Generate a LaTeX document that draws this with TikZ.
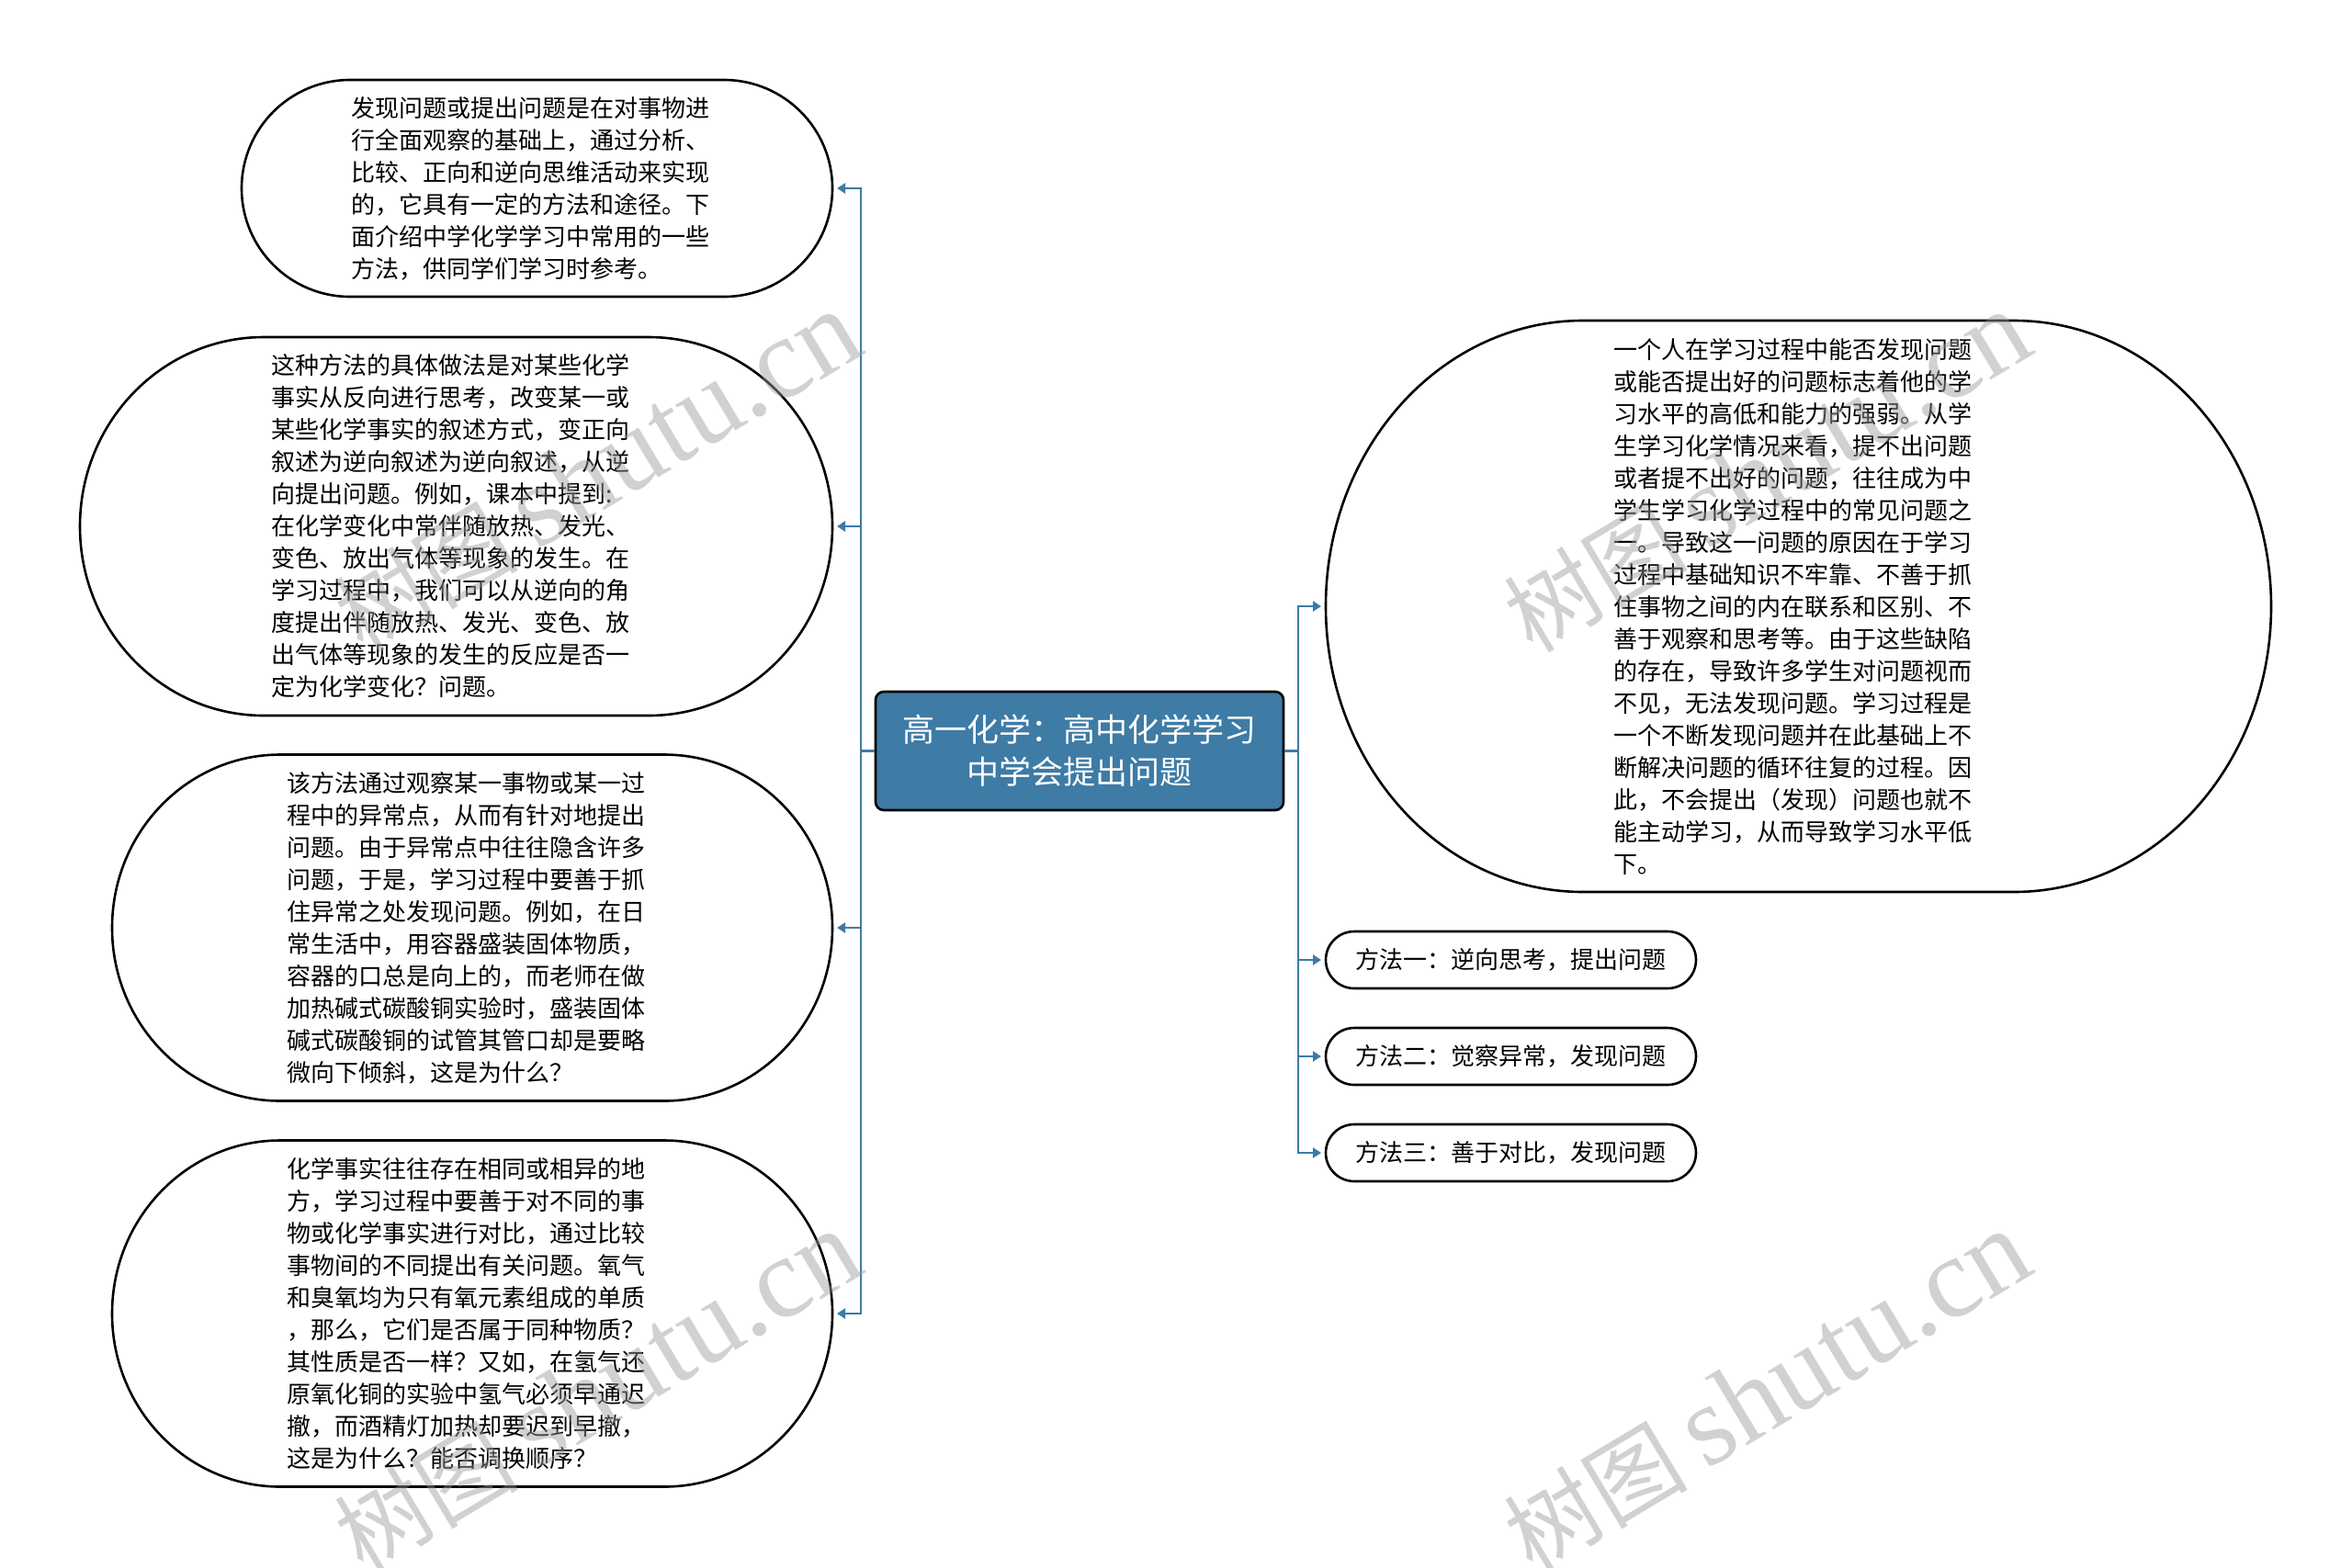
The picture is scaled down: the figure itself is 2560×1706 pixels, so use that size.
\documentclass[tikz,border=0pt]{standalone}
\usepackage{fontspec}
\setmainfont{Noto Sans CJK SC}
\newfontfamily\wmlatin{Liberation Serif}
\usetikzlibrary{arrows.meta,calc}
\definecolor{linkblue}{HTML}{3D7BA4}
\definecolor{rootblue}{HTML}{3E7BA5}
\newcommand{\drawcapsule}[3]{%
  \draw[outline] ($(#1.north west)+(#2,0)$) -- ($(#1.north east)+(-#2,0)$)
    arc[start angle=90,end angle=-90,x radius=#2pt,y radius=#3pt]
    -- ($(#1.south west)+(#2,0)$)
    arc[start angle=270,end angle=90,x radius=#2pt,y radius=#3pt] -- cycle;}
\begin{document}
\begin{tikzpicture}[x=1pt,y=-1pt,
  txt/.style={align=left, font=\fontsize{26}{35}\selectfont, inner sep=0pt},
  frame/.style={inner sep=0pt, outer sep=0pt, draw=none},
  outline/.style={draw=black, line width=2.6pt, fill=white},
  link/.style={draw=linkblue, line width=2.6pt},
  arr/.style={link, -{Triangle[length=9pt,width=11pt]}, shorten >=5pt},
  root/.style={draw=black, line width=2.6pt, fill=rootblue, rounded corners=9pt,
    text=white, align=center, font=\fontsize{35}{46}\selectfont,
    minimum width=444pt, minimum height=129pt, inner sep=0pt},
  wm/.style={text=black!40, opacity=0.45, inner sep=0pt}]
\useasboundingbox (0,0) rectangle (2560,1706);
\fill[white] (0,0) rectangle (2560,1706);

% frames
\node[frame, minimum width=643pt, minimum height=236pt] (L1f) at (584.5,205) {};
\node[frame, minimum width=819pt, minimum height=412pt] (L2f) at (496.5,573) {};
\node[frame, minimum width=784pt, minimum height=377pt] (L3f) at (514,1010) {};
\node[frame, minimum width=784pt, minimum height=377pt] (L4f) at (514,1430) {};
\node[frame, minimum width=1029pt, minimum height=622pt] (R1f) at (1957.5,660) {};
\node[frame, minimum width=403pt, minimum height=62pt] (R2f) at (1644.5,1045) {};
\node[frame, minimum width=403pt, minimum height=62pt] (R3f) at (1644.5,1150) {};
\node[frame, minimum width=403pt, minimum height=62pt] (R4f) at (1644.5,1255) {};

\drawcapsule{L1f}{118}{118}
\drawcapsule{L2f}{200}{206}
\drawcapsule{L3f}{183}{188.5}
\drawcapsule{L4f}{183}{188.5}
\drawcapsule{R1f}{280}{311}
\drawcapsule{R2f}{31}{31}
\drawcapsule{R3f}{31}{31}
\drawcapsule{R4f}{31}{31}

% texts
\node[txt] (L1) at (577,205) {发现问题或提出问题是在对事物进\\行全面观察的基础上，通过分析、\\比较、正向和逆向思维活动来实现\\的，它具有一定的方法和途径。下\\面介绍中学化学学习中常用的一些\\方法，供同学们学习时参考。};
\node[txt] (L2) at (490,573) {这种方法的具体做法是对某些化学\\事实从反向进行思考，改变某一或\\某些化学事实的叙述方式，变正向\\叙述为逆向叙述为逆向叙述，从逆\\向提出问题。例如，课本中提到:\\在化学变化中常伴随放热、发光、\\变色、放出气体等现象的发生。在\\学习过程中，我们可以从逆向的角\\度提出伴随放热、发光、变色、放\\出气体等现象的发生的反应是否一\\定为化学变化？问题。};
\node[txt] (L3) at (507,1010) {该方法通过观察某一事物或某一过\\程中的异常点，从而有针对地提出\\问题。由于异常点中往往隐含许多\\问题，于是，学习过程中要善于抓\\住异常之处发现问题。例如，在日\\常生活中，用容器盛装固体物质，\\容器的口总是向上的，而老师在做\\加热碱式碳酸铜实验时，盛装固体\\碱式碳酸铜的试管其管口却是要略\\微向下倾斜，这是为什么？};
\node[txt] (L4) at (507,1430) {化学事实往往存在相同或相异的地\\方，学习过程中要善于对不同的事\\物或化学事实进行对比，通过比较\\事物间的不同提出有关问题。氧气\\和臭氧均为只有氧元素组成的单质\\，那么，它们是否属于同种物质？\\其性质是否一样？又如，在氢气还\\原氧化铜的实验中氢气必须早通迟\\撤，而酒精灯加热却要迟到早撤，\\这是为什么？能否调换顺序？};
\node[txt] (R1) at (1951,660) {一个人在学习过程中能否发现问题\\或能否提出好的问题标志着他的学\\习水平的高低和能力的强弱。从学\\生学习化学情况来看，提不出问题\\或者提不出好的问题，往往成为中\\学生学习化学过程中的常见问题之\\一。导致这一问题的原因在于学习\\过程中基础知识不牢靠、不善于抓\\住事物之间的内在联系和区别、不\\善于观察和思考等。由于这些缺陷\\的存在，导致许多学生对问题视而\\不见，无法发现问题。学习过程是\\一个不断发现问题并在此基础上不\\断解决问题的循环往复的过程。因\\此，不会提出（发现）问题也就不\\能主动学习，从而导致学习水平低\\下。};
\node[txt] (R2) at (1644.5,1045) {方法一：逆向思考，提出问题};
\node[txt] (R3) at (1644.5,1150) {方法二：觉察异常，发现问题};
\node[txt] (R4) at (1644.5,1255) {方法三：善于对比，发现问题};

% root
\node[root] (root) at (1175,817.5) {高一化学：高中化学学习\\中学会提出问题};

% connectors
\coordinate (LT) at (937,817.5);
\coordinate (RT) at (1413,817.5);
\draw[link] (root.west) -- (LT);
\draw[link] (root.east) -- (RT);
\draw[arr] (LT) |- (L1f.east);
\draw[arr] (LT) |- (L2f.east);
\draw[arr] (LT) |- (L3f.east);
\draw[arr] (LT) |- (L4f.east);
\draw[arr] (RT) |- (R1f.west);
\draw[arr] (RT) |- (R2f.west);
\draw[arr] (RT) |- (R3f.west);
\draw[arr] (RT) |- (R4f.west);

% watermarks
\foreach \p [count=\i] in {(650,514),(1923,514),(650,1515),(1923,1515)}{
  \node[wm, rotate=31] (wm\i) at \p {\fontsize{100}{100}\selectfont 树图\hspace{20pt}{\wmlatin\fontsize{125}{125}\selectfont shutu.cn}};
}
\end{tikzpicture}
\end{document}
